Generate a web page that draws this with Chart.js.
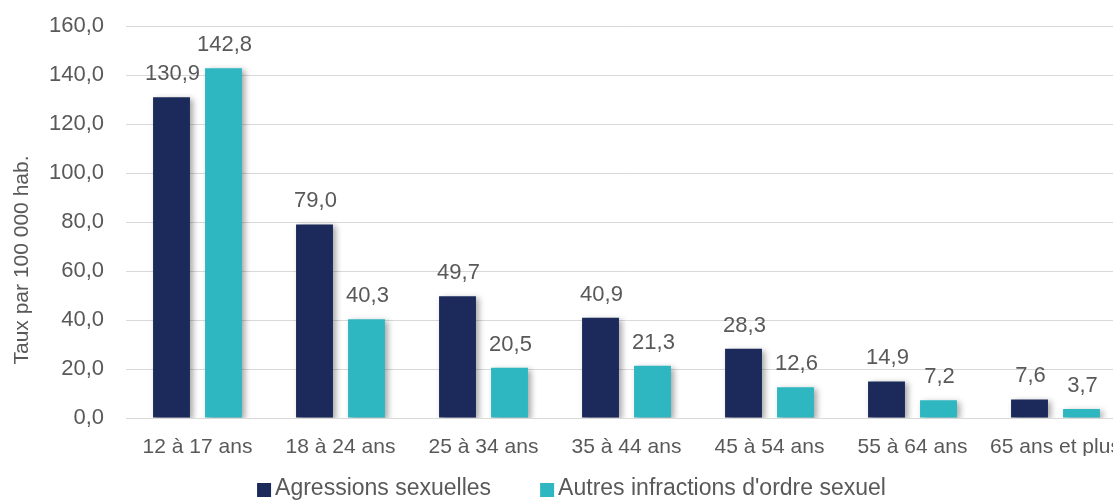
<!DOCTYPE html>
<html>
<head>
<meta charset="utf-8">
<script src="https://cdn.jsdelivr.net/npm/chart.js@4/dist/chart.umd.min.js"></script>
<style>
html,body{margin:0;padding:0;background:#fff;overflow:hidden;}
#wrap{width:1143px;height:501px;}
</style>
</head>
<body>
<div id="wrap"><canvas id="c" width="1143" height="501"></canvas></div>
<script>
const categories = ["12 à 17 ans","18 à 24 ans","25 à 34 ans","35 à 44 ans","45 à 54 ans","55 à 64 ans","65 ans et plus"];
const agressions = [130.9, 79.0, 49.7, 40.9, 28.3, 14.9, 7.6];
const autres = [142.8, 40.3, 20.5, 21.3, 12.6, 7.2, 3.7];
const seriesNames = ["Agressions sexuelles", "Autres infractions d'ordre sexuel"];
const seriesColors = ['#1B2A5B', '#2EB7C1'];
const yTitle = "Taux par 100 000 hab.";

const fmt = v => v.toFixed(1).replace('.', ',');
const FONT = "'Liberation Sans', Arial, sans-serif";
const TEXT = '#595959';

const shadowPlugin = {
  id: 'shadow',
  beforeDatasetsDraw(chart) {
    const ctx = chart.ctx;
    ctx.save();
    ctx.shadowColor = 'rgba(0,0,0,0.35)';
    ctx.shadowBlur = 6;
    ctx.shadowOffsetX = 3;
    ctx.shadowOffsetY = 2;
  },
  afterDatasetsDraw(chart) {
    chart.ctx.restore();
  }
};

const labelPlugin = {
  id: 'valueLabels',
  afterDatasetsDraw(chart) {
    const ctx = chart.ctx;
    ctx.save();
    ctx.font = "22px " + FONT;
    ctx.fillStyle = TEXT;
    ctx.textAlign = 'center';
    ctx.textBaseline = 'alphabetic';
    chart.data.datasets.forEach((ds, i) => {
      chart.getDatasetMeta(i).data.forEach((bar, j) => {
        ctx.fillText(fmt(ds.data[j]), bar.x + 1, bar.y - 17);
      });
    });
    ctx.restore();
  }
};

const legendTitlePlugin = {
  id: 'legendTitle',
  afterDraw(chart) {
    const ctx = chart.ctx;
    ctx.save();
    // y axis title
    ctx.font = "21px " + FONT;
    ctx.fillStyle = TEXT;
    ctx.translate(28, 260);
    ctx.rotate(-Math.PI / 2);
    ctx.textAlign = 'center';
    ctx.textBaseline = 'alphabetic';
    ctx.fillText(yTitle, 0, 0);
    ctx.restore();

    // legend
    ctx.save();
    ctx.font = "23px " + FONT;
    ctx.textBaseline = 'middle';
    ctx.textAlign = 'left';
    const box = 14, gapText = 4, gapItem = 49, cy = 489;
    const widths = seriesNames.map(n => ctx.measureText(n).width);
    let total = 0;
    widths.forEach((w, i) => { total += box + gapText + w + (i ? gapItem : 0); });
    let x = chart.width / 2 - total / 2;
    seriesNames.forEach((n, i) => {
      ctx.fillStyle = seriesColors[i];
      ctx.fillRect(x, cy - box / 2 + 1, box, box);
      ctx.fillStyle = TEXT;
      ctx.fillText(n, x + box + gapText, cy);
      x += box + gapText + widths[i] + gapItem;
    });
    ctx.restore();
  }
};

new Chart(document.getElementById('c'), {
  type: 'bar',
  data: {
    labels: categories,
    datasets: [
      { label: seriesNames[0], data: agressions, backgroundColor: seriesColors[0], categoryPercentage: 0.727, barPercentage: 0.71 },
      { label: seriesNames[1], data: autres, backgroundColor: seriesColors[1], categoryPercentage: 0.727, barPercentage: 0.71 }
    ]
  },
  options: {
    responsive: false,
    animation: false,
    layout: { padding: { top: 26, right: 16, left: 0, bottom: 45 } },
    scales: {
      x: {
        afterFit: s => { s.height = 38; s.paddingLeft = 0; s.paddingRight = 0; },
        grid: { display: false },
        border: { color: '#d9d9d9', width: 1 },
        ticks: { color: TEXT, font: { family: FONT, size: 21 }, padding: 9, maxRotation: 0, autoSkip: false }
      },
      y: {
        min: 0, max: 160,
        afterFit: s => { s.width = 126; s.paddingTop = 0; s.paddingBottom = 0; },
        grid: { color: '#d9d9d9', drawTicks: false },
        border: { display: false },
        ticks: { stepSize: 20, color: TEXT, font: { family: FONT, size: 22 }, padding: 22, callback: v => fmt(v) },
        title: { display: false }
      }
    },
    plugins: {
      legend: { display: false },
      tooltip: { enabled: false }
    }
  },
  plugins: [shadowPlugin, labelPlugin, legendTitlePlugin]
});
</script>
</body>
</html>
